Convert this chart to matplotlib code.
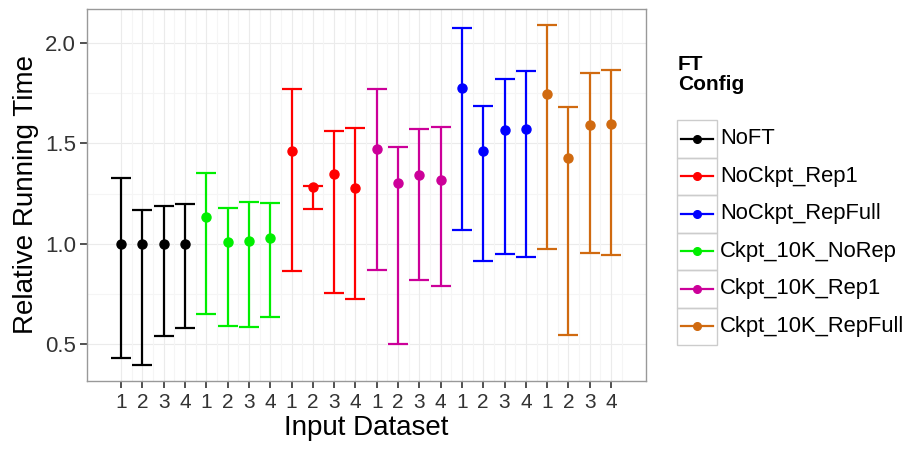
import numpy as np
import matplotlib.pyplot as plt
from matplotlib.lines import Line2D
from matplotlib.patches import Rectangle

plt.rcParams['font.family'] = ['Liberation Sans', 'DejaVu Sans']

# configs in plotting order (left to right)
configs = ["NoFT", "Ckpt_10K_NoRep", "NoCkpt_Rep1", "Ckpt_10K_Rep1", "NoCkpt_RepFull", "Ckpt_10K_RepFull"]
legend_order = ["NoFT", "NoCkpt_Rep1", "NoCkpt_RepFull", "Ckpt_10K_NoRep", "Ckpt_10K_Rep1", "Ckpt_10K_RepFull"]
colors = {
    "NoFT": "black",
    "NoCkpt_Rep1": "#FF0000",
    "NoCkpt_RepFull": "#0000FF",
    "Ckpt_10K_NoRep": "#00EE00",
    "Ckpt_10K_Rep1": "#CC0099",
    "Ckpt_10K_RepFull": "#D06A10",
}
datasets = ["1", "2", "3", "4"]

means = {
    "NoFT":             [1.00, 1.00, 1.00, 1.00],
    "Ckpt_10K_NoRep":   [1.134, 1.010, 1.013, 1.028],
    "NoCkpt_Rep1":      [1.464, 1.284, 1.346, 1.277],
    "Ckpt_10K_Rep1":    [1.473, 1.303, 1.343, 1.316],
    "NoCkpt_RepFull":   [1.774, 1.461, 1.565, 1.572],
    "Ckpt_10K_RepFull": [1.744, 1.428, 1.592, 1.597],
}
upper = {
    "NoFT":             [1.330, 1.169, 1.190, 1.197],
    "Ckpt_10K_NoRep":   [1.351, 1.177, 1.209, 1.205],
    "NoCkpt_Rep1":      [1.769, 1.287, 1.564, 1.579],
    "Ckpt_10K_Rep1":    [1.771, 1.483, 1.572, 1.582],
    "NoCkpt_RepFull":   [2.073, 1.687, 1.822, 1.862],
    "Ckpt_10K_RepFull": [2.090, 1.683, 1.849, 1.866],
}
lower = {
    "NoFT":             [0.433, 0.398, 0.542, 0.580],
    "Ckpt_10K_NoRep":   [0.653, 0.592, 0.587, 0.635],
    "NoCkpt_Rep1":      [0.864, 1.172, 0.754, 0.728],
    "Ckpt_10K_Rep1":    [0.869, 0.502, 0.822, 0.789],
    "NoCkpt_RepFull":   [1.071, 0.913, 0.948, 0.935],
    "Ckpt_10K_RepFull": [0.977, 0.545, 0.955, 0.945],
}

W, H = 907, 450
fig = plt.figure(figsize=(W / 100, H / 100), dpi=100)
ax = fig.add_axes([87 / W, 1 - 381 / H, (646 - 87) / W, (381 - 9) / H])

ax.set_facecolor("white")
for v in np.arange(0.25, 2.3, 0.25):
    ax.axhline(v, color="#EBEBEB" if v % 0.5 == 0 else "#F5F5F5", lw=0.8, zorder=0)

pos = 1
ticklabels = []
for c in configs:
    x = np.arange(pos, pos + 4)
    m = np.array(means[c])
    lo = m - np.array(lower[c])
    hi = np.array(upper[c]) - m
    ax.errorbar(x, m, yerr=[lo, hi], fmt="o", color=colors[c], ms=6.5,
                lw=1.6, capsize=7, capthick=1.6, zorder=3)
    ticklabels += datasets
    pos += 4

n = len(ticklabels)
xs = np.arange(1, n + 1)
for v in xs:
    ax.axvline(v, color="#EBEBEB", lw=0.8, zorder=0)
    ax.axvline(v + 0.5, color="#F5F5F5", lw=0.8, zorder=0)

ax.set_xticks(xs)
ax.set_xticklabels(ticklabels)
ax.set_xlim(-0.6, n + 1.64)
ax.set_ylim(0.318, 2.169)
ax.set_yticks([0.5, 1.0, 1.5, 2.0])
ax.set_yticklabels(["0.5", "1.0", "1.5", "2.0"])
ax.tick_params(axis="both", length=5, width=1.2, color="#333333", labelcolor="#333333")
ax.tick_params(axis="x", labelsize=15, pad=4)
ax.tick_params(axis="y", labelsize=16, pad=3)
for s in ax.spines.values():
    s.set_color("#999999")
    s.set_linewidth(1.0)

ax.set_xlabel("Input Dataset", fontsize=20, labelpad=2)
ax.set_ylabel("Relative Running Time", fontsize=20, labelpad=4)

# legend, drawn by hand so the keys sit in ggplot-style boxes
fig.text(678 / W, 1 - 55 / H, "FT\nConfig", fontsize=15, fontweight="bold",
         va="top", ha="left", linespacing=1.05)
key_top, key_bot = 120, 345
key_h = (key_bot - key_top) / len(legend_order)
for i, c in enumerate(legend_order):
    y0 = key_top + i * key_h
    yc = 1 - (y0 + key_h / 2) / H
    fig.patches.append(Rectangle((677 / W, 1 - (y0 + key_h) / H), 40 / W, key_h / H,
                                 transform=fig.transFigure, fill=False,
                                 edgecolor="#CCCCCC", lw=1.0))
    fig.add_artist(Line2D([681 / W, 713 / W], [yc, yc], color=colors[c], lw=1.6))
    fig.add_artist(Line2D([697 / W], [yc], color=colors[c], marker="o", ms=5.5))
    fig.text(720 / W, yc, c, fontsize=15.8, va="center", ha="left")

fig.savefig("out.png", dpi=100)
